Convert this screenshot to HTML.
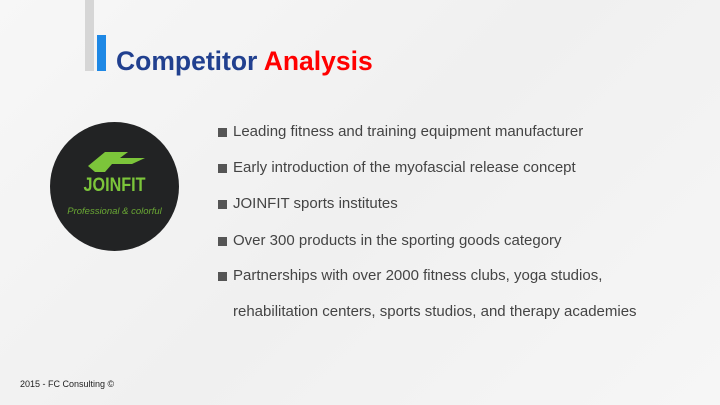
<!DOCTYPE html>
<html><head><meta charset="utf-8"><style>
body{margin:0;width:720px;height:405px;overflow:hidden;background:linear-gradient(135deg,#f7f7f7,#f0f0f0 50%,#f6f6f6);font-family:"Liberation Sans",sans-serif;position:relative}
.a{position:absolute}
.li{position:absolute;left:233px;font-size:15px;color:#444;white-space:nowrap}
.li span{position:absolute;left:-15px;top:5px;width:9px;height:9px;background:#555}
</style></head><body>
<div class="a" style="left:85px;top:0;width:9px;height:71px;background:#d6d6d6"></div>
<div class="a" style="left:97px;top:35px;width:9px;height:36px;background:#1e88e5"></div>
<div class="a" style="left:116px;top:46px;font-size:26.5px;font-weight:bold;color:#21408f;white-space:nowrap">Competitor <span style="color:#f00">Analysis</span></div>
<div class="a" style="left:50px;top:122px;width:129px;height:129px;border-radius:50%;background:#222324">
<svg width="129" height="129"><polygon points="38,44 55,30 78,30 70,36 95,36 82,42 62,42 55,50 45,50" fill="#7cc53a"/></svg>
<div class="a" style="left:0;width:129px;top:53px;text-align:center;font-size:19px;font-weight:bold;color:#7cc53a;transform:scaleX(0.85)">JOINFIT</div>
<div class="a" style="left:0;width:129px;top:84px;text-align:center;font-size:9.5px;font-style:italic;color:#6aa834">Professional &amp; colorful</div>
</div>
<div class="li" style="top:123px"><span></span>Leading fitness and training equipment manufacturer</div>
<div class="li" style="top:159px"><span></span>Early introduction of the myofascial release concept</div>
<div class="li" style="top:195px"><span></span>JOINFIT sports institutes</div>
<div class="li" style="top:232px"><span></span>Over 300 products in the sporting goods category</div>
<div class="li" style="top:267px"><span></span>Partnerships with over 2000 fitness clubs, yoga studios,</div>
<div class="li" style="top:303px">rehabilitation centers, sports studios, and therapy academies</div>
<div class="a" style="left:20px;top:379px;font-size:9px;color:#222">2015 - FC Consulting ©</div>
</body></html>
